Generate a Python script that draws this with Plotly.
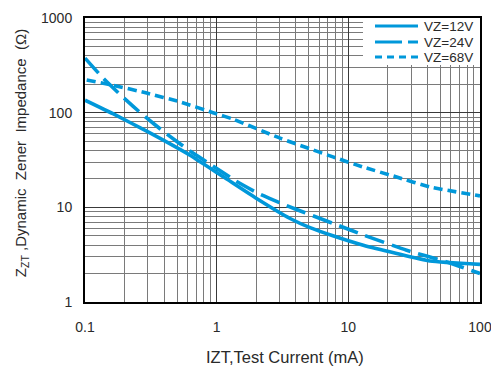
import plotly.graph_objects as go

# ---- data ----
current_12v = [0.1, 0.163, 0.294, 0.627, 1.123, 2.01, 3.61, 5.12, 7.64, 13.0, 23.3, 41.7, 100]
zzt_12v     = [135.6, 97.5, 63.7, 35.5, 21.0, 12.4, 7.62, 6.1, 5.0, 3.97, 3.25, 2.71, 2.5]

current_24v = [0.1, 0.138, 0.193, 0.277, 0.405, 0.600, 0.917, 1.397, 2.06, 3.25, 4.69, 9.13, 12.9, 27.7, 55.8, 100]
zzt_24v     = [377, 230, 147, 94, 61.5, 41.1, 27.9, 19.0, 14.1, 10.7, 8.77, 6.16, 5.13, 3.52, 2.65, 2.0]

current_68v = [0.103, 0.163, 0.294, 0.527, 0.938, 1.33, 3.03, 7.64, 12.9, 23.3, 41.7, 100]
zzt_68v     = [221, 195, 161, 130, 100, 85.4, 53.8, 34.1, 26.7, 20.9, 16.4, 13.2]

series_names = ["VZ=12V", "VZ=24V", "VZ=68V"]
x_ticks = [0.1, 1, 10, 100]
x_tick_labels = ["0.1", "1", "10", "100"]
y_ticks = [1, 10, 100, 1000]
y_tick_labels = ["1", "10", "100", "1000"]

BLUE = "rgb(0,152,218)"
FONT = "Liberation Sans, Arial, sans-serif"
TXT = "#2a2a2a"
dashes = ["solid", "20px,8px", "9px,5px"]
legend_dashes = ["solid", "27px,6px", "7px,5px"]

fig = go.Figure()
for xs, ys, name, d in zip([current_12v, current_24v, current_68v],
                           [zzt_12v, zzt_24v, zzt_68v], series_names, dashes):
    fig.add_trace(go.Scatter(x=xs, y=ys, mode="lines", name=name, showlegend=False,
                             line=dict(color=BLUE, width=3.6, dash=d, shape="spline", smoothing=0.5)))

minor_x = [m * 10 ** e for e in (-1, 0, 1) for m in range(2, 10)]
minor_y = [m * 10 ** e for e in (0, 1, 2) for m in range(2, 10)]

fig.update_xaxes(type="log", range=[-1, 2], tickvals=x_ticks, ticktext=x_tick_labels, automargin=False,
                 showgrid=True, gridcolor="#3a3a3a", gridwidth=1.2,
                 minor=dict(tickvals=minor_x, showgrid=True, gridcolor="#7a7a7a", gridwidth=1, ticks=""),
                 showline=True, linecolor="black", linewidth=2, mirror=True,
                 ticks="", ticklabelstandoff=11, ticklabeloverflow="allow", zeroline=False,
                 tickfont=dict(family=FONT, size=14, color=TXT))
fig.update_yaxes(type="log", range=[0, 3], tickvals=y_ticks, ticktext=y_tick_labels, automargin=False,
                 showgrid=True, gridcolor="#3a3a3a", gridwidth=1.2,
                 minor=dict(tickvals=minor_y, showgrid=True, gridcolor="#7a7a7a", gridwidth=1, ticks=""),
                 showline=True, linecolor="black", linewidth=2, mirror=True,
                 ticks="", ticklabelstandoff=8, ticklabeloverflow="allow", zeroline=False,
                 tickfont=dict(family=FONT, size=14, color=TXT))

# axis titles as annotations for exact placement
annotations = [
    dict(text="IZT,Test Current (mA)", xref="paper", yref="paper", x=(285 - 85) / 395,
         y=-(357 - 301.7) / 283.7, xanchor="center", yanchor="middle", showarrow=False,
         font=dict(family=FONT, size=16.5, color=TXT)),
    dict(text="Z<sub>ZT</sub> ,Dynamic  Zener  Impedance  (Ω)", xref="paper", yref="paper",
         x=-(85 - 21) / 395, y=1 - (153 - 18) / 283.7, xanchor="center", yanchor="middle",
         textangle=-90, showarrow=False, font=dict(family=FONT, size=15, color=TXT)),
]

# legend box (white background over the grid, top-right)
shapes = [dict(type="rect", xref="paper", yref="paper", x0=(363 - 85) / 395, x1=1, y0=1 - 47 / 283.7, y1=1,
               fillcolor="white", line=dict(width=0), layer="above")]
row_px = [26, 42, 57]
for name, d, rp in zip(series_names, legend_dashes, row_px):
    yp = 1 - (rp - 18) / 283.7
    shapes.append(dict(type="line", xref="paper", yref="paper", x0=(375 - 85) / 395, x1=(418 - 85) / 395,
                       y0=yp, y1=yp, line=dict(color=BLUE, width=3, dash=d), layer="above"))
    annotations.append(dict(text=name, xref="paper", yref="paper", x=(475 - 85) / 395, y=yp,
                            xanchor="right", yanchor="middle", showarrow=False,
                            font=dict(family=FONT, size=13.5, color=TXT)))

fig.update_layout(shapes=shapes, annotations=annotations)
fig.update_layout(width=491, height=367, margin=dict(l=85, r=11, t=18, b=65),
                  plot_bgcolor="white", paper_bgcolor="white", showlegend=False)
fig.write_html("out.html")
